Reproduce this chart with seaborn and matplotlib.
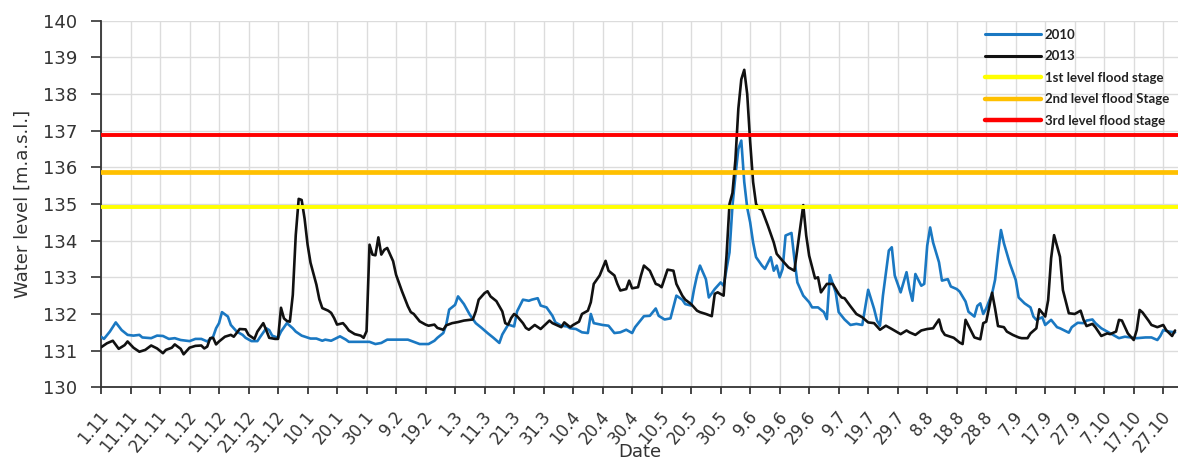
import matplotlib
matplotlib.use("Agg")
import matplotlib.pyplot as plt
import matplotlib.transforms as mtransforms
from matplotlib.lines import Line2D
import pandas as pd
import seaborn as sns

# Day of the hydrological year (0 = 1 November) and water level [m a.s.l.]
days_2010 = [0, 1, 3, 5, 7, 9, 11, 13, 14, 17, 19, 21, 23, 25, 27, 30, 32, 34, 36, 38,
             39, 40, 41, 43, 44, 46, 48, 49, 51, 53, 54, 56, 57, 58, 60, 61, 63, 65, 66, 68,
             71, 73, 75, 76, 78, 80, 81, 83, 84, 88, 91, 93, 95, 97, 99, 104, 106, 108, 111, 113,
             114, 116, 117, 118, 120, 121, 123, 125, 127, 129, 131, 133, 135, 136, 138, 140, 141, 143, 145, 146,
             148, 149, 151, 153, 154, 156, 158, 159, 161, 163, 165, 166, 167, 170, 172, 174, 176, 178, 180, 181,
             184, 186, 188, 189, 191, 193, 195, 197, 198, 200, 201, 202, 203, 205, 206, 208, 210, 211, 213, 214,
             215, 216, 217, 218, 219, 220, 221, 222, 224, 225, 227, 228, 229, 230, 231, 232, 234, 235, 236, 238,
             240, 241, 243, 245, 246, 247, 249, 250, 252, 254, 256, 258, 259, 260, 262, 263, 264, 265, 267, 268,
             269, 271, 272, 273, 274, 275, 276, 278, 279, 280, 281, 282, 284, 285, 287, 288, 290, 291, 293, 294,
             296, 297, 298, 299, 300, 302, 303, 304, 305, 306, 308, 310, 311, 313, 315, 316, 317, 319, 320, 322,
             324, 325, 328, 329, 331, 333, 334, 336, 337, 339, 341, 343, 345, 347, 349, 351, 354, 356, 358, 359,
             360, 362, 364]
level_2010 = [131.38, 131.32, 131.52, 131.77, 131.56, 131.43, 131.41, 131.43, 131.36, 131.34,
              131.41, 131.40, 131.32, 131.34, 131.29, 131.26, 131.32, 131.32, 131.25, 131.38,
              131.61, 131.75, 132.05, 131.93, 131.70, 131.52, 131.43, 131.35, 131.26, 131.26,
              131.38, 131.61, 131.56, 131.41, 131.35, 131.52, 131.75, 131.61, 131.52, 131.41,
              131.33, 131.33, 131.27, 131.30, 131.27, 131.35, 131.39, 131.30, 131.24, 131.24,
              131.24, 131.18, 131.21, 131.30, 131.30, 131.30, 131.24, 131.18, 131.18, 131.27,
              131.35, 131.48, 131.71, 132.12, 132.25, 132.48, 132.27, 131.98, 131.75, 131.62,
              131.48, 131.35, 131.21, 131.44, 131.71, 131.66, 132.07, 132.39, 132.36, 132.39,
              132.43, 132.23, 132.18, 131.95, 131.77, 131.68, 131.66, 131.61, 131.59, 131.50,
              131.48, 132.00, 131.75, 131.70, 131.68, 131.48, 131.50, 131.57, 131.48, 131.64,
              131.94, 131.95, 132.15, 131.95, 131.85, 131.88, 132.50, 132.39, 132.27, 132.23,
              132.68, 133.05, 133.32, 132.95, 132.45, 132.68, 132.86, 132.77, 133.68, 134.95,
              135.77, 136.50, 136.73, 135.60, 134.90, 134.50, 133.95, 133.55, 133.32, 133.23,
              133.55, 133.18, 133.32, 133.00, 133.23, 134.14, 134.21, 133.50, 132.86, 132.50,
              132.32, 132.18, 132.18, 132.05, 131.86, 133.06, 132.59, 132.05, 131.85, 131.70,
              131.73, 131.70, 132.18, 132.66, 132.14, 131.82, 131.68, 132.50, 133.73, 133.82,
              133.05, 132.59, 132.86, 133.14, 132.68, 132.36, 133.09, 132.77, 132.82, 133.86,
              134.36, 133.95, 133.41, 132.91, 132.95, 132.75, 132.68, 132.61, 132.34, 132.06,
              131.93, 132.22, 132.29, 132.00, 132.15, 132.56, 132.93, 133.65, 134.29, 133.93,
              133.38, 132.93, 132.45, 132.29, 132.18, 131.93, 131.84, 131.91, 131.70, 131.84,
              131.64, 131.61, 131.49, 131.64, 131.76, 131.75, 131.82, 131.85, 131.75, 131.61,
              131.52, 131.43, 131.34, 131.38, 131.36, 131.34, 131.36, 131.36, 131.29, 131.40,
              131.56, 131.52, 131.50]

days_2013 = [0, 2, 4, 6, 8, 9, 11, 13, 15, 17, 19, 21, 22, 24, 25, 27, 28, 30, 32, 34,
             35, 36, 37, 38, 39, 40, 42, 44, 45, 47, 49, 50, 52, 53, 55, 56, 57, 59, 60, 61,
             62, 63, 64, 65, 66, 67, 68, 69, 70, 71, 72, 73, 74, 75, 77, 78, 79, 80, 82, 83,
             84, 86, 88, 89, 90, 91, 92, 93, 94, 95, 96, 97, 99, 100, 102, 104, 105, 106, 108, 110,
             111, 113, 114, 116, 117, 119, 121, 123, 126, 127, 128, 130, 131, 132, 134, 136, 137, 138, 139, 140,
             141, 143, 144, 145, 147, 149, 152, 153, 156, 157, 159, 160, 162, 163, 165, 166, 167, 169, 171, 172,
             174, 175, 176, 178, 179, 180, 182, 183, 184, 186, 188, 189, 190, 192, 194, 195, 197, 198, 200, 202,
             203, 205, 207, 208, 209, 211, 212, 213, 214, 215, 216, 217, 218, 219, 220, 221, 222, 223, 224, 226,
             228, 229, 231, 233, 235, 236, 238, 239, 240, 242, 243, 244, 246, 248, 250, 251, 252, 254, 256, 258,
             260, 262, 264, 266, 268, 271, 273, 274, 276, 278, 280, 282, 284, 285, 286, 289, 291, 292, 293, 295,
             296, 298, 299, 300, 302, 303, 304, 306, 307, 309, 311, 312, 314, 315, 317, 318, 320, 321, 322, 323,
             325, 326, 328, 330, 332, 333, 334, 336, 337, 339, 341, 342, 344, 345, 346, 348, 350, 351, 352, 353,
             355, 356, 358, 360, 361, 363, 364]
level_2013 = [131.09, 131.20, 131.27, 131.05, 131.15, 131.25, 131.08, 130.97, 131.02, 131.14,
              131.06, 130.93, 131.02, 131.08, 131.17, 131.05, 130.90, 131.08, 131.13, 131.14,
              131.06, 131.11, 131.34, 131.35, 131.17, 131.25, 131.38, 131.43, 131.38, 131.59,
              131.58, 131.43, 131.32, 131.52, 131.75, 131.56, 131.35, 131.32, 131.32, 132.17,
              131.88, 131.81, 131.79, 132.52, 134.15, 135.14, 135.11, 134.60, 133.90, 133.40,
              133.10, 132.80, 132.40, 132.16, 132.09, 132.03, 131.89, 131.71, 131.75, 131.66,
              131.55, 131.45, 131.41, 131.35, 131.53, 133.89, 133.62, 133.60, 134.09, 133.62,
              133.75, 133.80, 133.44, 133.07, 132.62, 132.21, 132.05, 132.00, 131.80, 131.71,
              131.68, 131.71, 131.62, 131.57, 131.69, 131.75, 131.78, 131.82, 131.85, 132.07,
              132.39, 132.57, 132.62, 132.48, 132.35, 132.07, 131.75, 131.71, 131.89, 132.00,
              131.94, 131.75, 131.62, 131.57, 131.70, 131.59, 131.82, 131.75, 131.64, 131.77,
              131.64, 131.70, 131.79, 132.00, 132.09, 132.32, 132.82, 133.05, 133.45, 133.18,
              133.05, 132.82, 132.64, 132.68, 132.91, 132.70, 132.73, 133.05, 133.32, 133.18,
              132.82, 132.79, 132.73, 133.21, 133.18, 132.82, 132.50, 132.39, 132.27, 132.09,
              132.05, 132.00, 131.94, 132.55, 132.59, 132.50, 133.60, 135.00, 135.30, 136.20,
              137.60, 138.40, 138.66, 138.00, 136.70, 135.60, 135.00, 134.88, 134.84, 134.41,
              133.95, 133.64, 133.45, 133.27, 133.18, 133.77, 134.97, 134.14, 133.59, 132.97,
              133.00, 132.59, 132.82, 132.82, 132.55, 132.45, 132.43, 132.21, 132.00, 131.91,
              131.77, 131.75, 131.57, 131.68, 131.59, 131.45, 131.55, 131.50, 131.43, 131.55,
              131.59, 131.61, 131.85, 131.55, 131.43, 131.35, 131.22, 131.18, 131.84, 131.52,
              131.36, 131.31, 131.75, 131.79, 132.58, 132.15, 131.67, 131.64, 131.52, 131.43,
              131.36, 131.34, 131.34, 131.47, 131.61, 132.13, 131.93, 132.38, 133.52, 134.15,
              133.56, 132.65, 132.02, 132.00, 132.09, 131.84, 131.67, 131.73, 131.64, 131.40,
              131.47, 131.45, 131.52, 131.84, 131.82, 131.47, 131.29, 131.56, 132.11, 132.04,
              131.82, 131.70, 131.64, 131.70, 131.56, 131.40, 131.55]

# Flood stage thresholds [m a.s.l.]
stage_names = ["1st level flood stage", "2nd level flood Stage", "3rd level flood stage"]
stage_levels = [134.92, 135.87, 136.88]
stage_colors = ["#FFFF00", "#FFC000", "#FF0000"]
stage_widths = [2.8, 3.4, 2.8]

# Tick labels, one every ten days from 1 November
tick_days = list(range(0, 361, 10))
tick_labels = ["1.11", "11.11", "21.11", "1.12", "11.12", "21.12", "31.12", "10.1", "20.1",
               "30.1", "9.2", "19.2", "1.3", "11.3", "21.3", "31.3", "10.4", "20.4", "30.4",
               "10.5", "20.5", "30.5", "9.6", "19.6", "29.6", "9.7", "19.7", "29.7", "8.8",
               "18.8", "28.8", "7.9", "17.9", "27.9", "7.10", "17.10", "27.10"]

df = pd.concat([
    pd.DataFrame({"day": days_2010, "level": level_2010, "year": "2010"}),
    pd.DataFrame({"day": days_2013, "level": level_2013, "year": "2013"}),
])

sns.set_theme(style="white")
plt.rcParams["font.family"] = ["DejaVu Sans"]

fig = plt.figure(figsize=(11.78, 4.63), dpi=100)
ax = fig.add_axes([101 / 1178, (463 - 387.3) / 463, 1077 / 1178, 366.6 / 463])

sns.lineplot(data=df, x="day", y="level", hue="year",
             palette={"2010": "#1a78c2", "2013": "#111111"},
             linewidth=1.9, ax=ax, zorder=3, legend=False)

for name, lev, col, lw in zip(stage_names, stage_levels, stage_colors, stage_widths):
    ax.axhline(lev, color=col, linewidth=lw, zorder=4)

ax.set_xlim(0, 365)
ax.set_ylim(130, 140)
ax.set_yticks(range(130, 141))
ax.set_xticks(tick_days)
ax.tick_params(axis="y", labelsize=13, colors="#333333", length=7, width=1.2,
               direction="out", left=True, pad=10)
ax.tick_params(axis="x", length=5, width=1.2, direction="out", bottom=True, pad=3)
ax.set_xticklabels(tick_labels, rotation=50, ha="right", rotation_mode="anchor",
                   fontsize=12, color="#333333")
# nudge the slanted date labels down so they hang just below each tick
shift = mtransforms.ScaledTranslation(-3 / 100, -9 / 100, fig.dpi_scale_trans)
for lab in ax.get_xticklabels():
    lab.set_transform(lab.get_transform() + shift)

ax.grid(True, color="#dcdcdc", linewidth=1.0, zorder=0)
ax.set_axisbelow(True)
for side in ["top", "right"]:
    ax.spines[side].set_visible(False)
for side in ["left", "bottom"]:
    ax.spines[side].set_color("#333333")
    ax.spines[side].set_linewidth(1.3)

ax.set_ylabel("Water level [m.a.s.l.]", fontsize=13, color="#333333", labelpad=8)
ax.set_xlabel("Date", fontsize=13, color="#333333", labelpad=-9)

handles = [Line2D([], [], color="#1a78c2", lw=2.2), Line2D([], [], color="#111111", lw=2.2)]
handles += [Line2D([], [], color=c, lw=3.2) for c in stage_colors]
labels = ["2010", "2013"] + stage_names
leg = ax.legend(handles, labels, loc="upper left", bbox_to_anchor=(0.821, 0.978),
                frameon=False, borderaxespad=0, borderpad=0, handlelength=4.2,
                handletextpad=0.3, labelspacing=0.72,
                prop={"family": "Lato", "weight": "bold", "size": 9.5})
for t in leg.get_texts():
    t.set_color("#222222")

fig.savefig("out.png", dpi=100)
